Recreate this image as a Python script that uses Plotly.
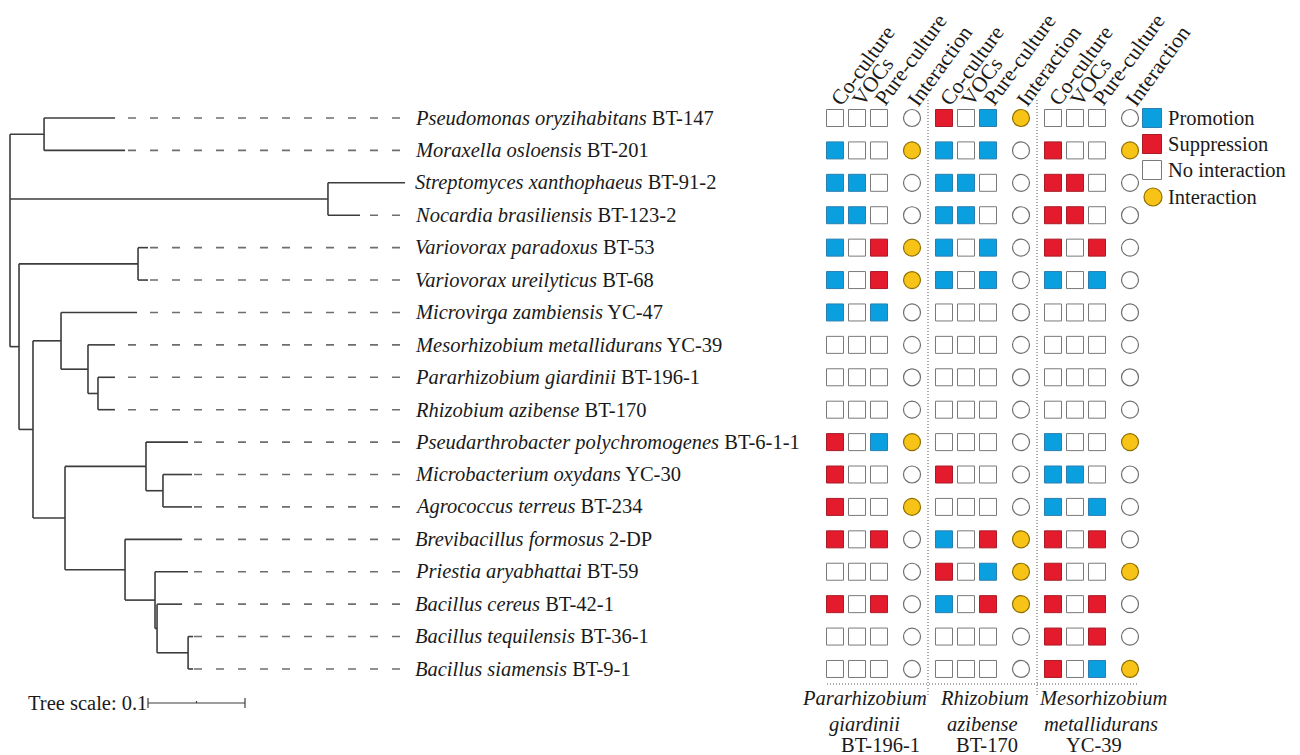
import plotly.graph_objects as go

# ---------------- taxa (top to bottom) ----------------
SPECIES = [
    "Pseudomonas oryzihabitans", "Moraxella osloensis", "Streptomyces xanthophaeus",
    "Nocardia brasiliensis", "Variovorax paradoxus", "Variovorax ureilyticus",
    "Microvirga zambiensis", "Mesorhizobium metallidurans", "Pararhizobium giardinii",
    "Rhizobium azibense", "Pseudarthrobacter polychromogenes", "Microbacterium oxydans",
    "Agrococcus terreus", "Brevibacillus formosus", "Priestia aryabhattai",
    "Bacillus cereus", "Bacillus tequilensis", "Bacillus siamensis",
]
STRAINS = [
    "BT-147", "BT-201", "BT-91-2", "BT-123-2", "BT-53", "BT-68", "YC-47", "YC-39",
    "BT-196-1", "BT-170", "BT-6-1-1", "YC-30", "BT-234", "2-DP", "BT-59",
    "BT-42-1", "BT-36-1", "BT-9-1",
]

# ---------------- phylogeny ----------------
# Each node is (child, branch_length); child is a leaf row index or a list of nodes.
TREE = [
    ([(0, 0.0732), (1, 0.0835)], 0.0351),
    ([(2, 0.0794), (3, 0.0330)], 0.3278),
    ([
        ([(4, 0.0103), (5, 0.0103)], 0.1227),
        ([
            ([(6, 0.0784),
              ([(7, 0.0278),
                ([(8, 0.0175), (9, 0.0175)], 0.0103)], 0.0278)], 0.0289),
            ([
                ([(10, 0.0433),
                  ([(11, 0.0299), (12, 0.0299)], 0.0175)], 0.0835),
                ([(13, 0.0588),
                  ([(14, 0.0340),
                    ([(15, 0.0258),
                      ([(16, 0.0052), (17, 0.0052)], 0.0320)], 0.0021)], 0.0309)], 0.0619),
            ], 0.0330),
        ], 0.0144),
    ], 0.0093),
]
TREE_SCALE = 0.1

# ---------------- interaction effects ----------------
# Columns: Co-culture, VOCs, Pure-culture  (1 promotion, -1 suppression, 0 none)
EFFECTS_GIARDINII = [
    (0, 0, 0), (1, 0, 0), (1, 1, 0), (1, 1, 0), (1, 0, -1), (1, 0, -1), (1, 0, 1),
    (0, 0, 0), (0, 0, 0), (0, 0, 0), (-1, 0, 1), (-1, 0, 0), (-1, 0, 0), (-1, 0, -1),
    (0, 0, 0), (-1, 0, -1), (0, 0, 0), (0, 0, 0),
]
EFFECTS_AZIBENSE = [
    (-1, 0, 1), (1, 0, 1), (1, 1, 0), (1, 1, 0), (1, 0, 1), (1, 0, 1), (0, 0, 0),
    (0, 0, 0), (0, 0, 0), (0, 0, 0), (0, 0, 0), (-1, 0, 0), (0, 0, 0), (1, 0, -1),
    (-1, 0, 1), (1, 0, -1), (0, 0, 0), (0, 0, 0),
]
EFFECTS_METALLIDURANS = [
    (0, 0, 0), (-1, 0, 0), (-1, -1, 0), (-1, -1, 0), (-1, 0, -1), (1, 0, 1), (0, 0, 0),
    (0, 0, 0), (0, 0, 0), (0, 0, 0), (1, 0, 0), (1, 1, 0), (1, 0, 1), (-1, 0, -1),
    (-1, 0, 0), (-1, 0, -1), (-1, 0, -1), (-1, 0, 1),
]
# Interaction (1 yes, 0 no)
INTER_GIARDINII = [0, 1, 0, 0, 1, 1, 0, 0, 0, 0, 1, 0, 1, 0, 0, 0, 0, 0]
INTER_AZIBENSE = [1, 0, 0, 0, 0, 0, 0, 0, 0, 0, 0, 0, 0, 1, 1, 1, 0, 0]
INTER_METALLIDURANS = [0, 1, 0, 0, 0, 0, 0, 0, 0, 0, 1, 0, 0, 0, 1, 0, 0, 1]

COLUMN_LABELS = ["Co-culture", "VOCs", "Pure-culture", "Interaction"]
PARTNERS = [
    ("Pararhizobium", "giardinii", "BT-196-1"),
    ("Rhizobium", "azibense", "BT-170"),
    ("Mesorhizobium", "metallidurans", "YC-39"),
]
LEGEND_LABELS = ["Promotion", "Suppression", "No interaction", "Interaction"]

# ---------------- styling / layout ----------------
W, H = 1300, 755
ROW_PX0, ROW_STEP = 118.0, 32.41
PX_PER_UNIT = 970.0
TREE_X0 = 10.0
LEADER_END_PX = 400.0
LABEL_X = 413.0
GROUP_X0 = [835, 944, 1053]
SQ_OFFSETS = [0, 22, 44]
CIRCLE_OFFSET = 77

BLUE, RED, YELLOW = "#0AA0E0", "#E31B2C", "#F8C317"
TREE_COLOR, LEADER_COLOR = "#3c3c3c", "#6e6e6e"
TEXT_COLOR = "#1a1a1a"
FONT = "Liberation Serif"


def row(px):
    return (px - ROW_PX0) / ROW_STEP


def tx(px):
    return (px - TREE_X0) / PX_PER_UNIT


fig = go.Figure()

# ---- tree layout ----
hx, hy, vx, vy = [], [], [], []
leaf_x = {}


def place(nodes, x_parent):
    ys = []
    for child, bl in nodes:
        x = x_parent + bl
        if isinstance(child, int):
            y = child
            leaf_x[child] = x
        else:
            y = place(child, x)
        hx.extend([x_parent, x, None])
        hy.extend([y, y, None])
        ys.append(y)
    vx.extend([x_parent, x_parent, None])
    vy.extend([min(ys), max(ys), None])
    return (min(ys) + max(ys)) / 2


place(TREE, 0.0)

fig.add_trace(go.Scatter(x=hx + vx, y=hy + vy, mode="lines", xaxis="x", yaxis="y",
                         line=dict(color=TREE_COLOR, width=1.6), hoverinfo="skip"))

# dashed leaders from label column back to each tip (one trace per leader so dashes align right)
for i in range(len(SPECIES)):
    if leaf_x[i] < tx(LEADER_END_PX):
        fig.add_trace(go.Scatter(x=[tx(LEADER_END_PX), leaf_x[i]], y=[i, i], mode="lines",
                                 xaxis="x", yaxis="y",
                                 line=dict(color=LEADER_COLOR, width=1.6, dash="8px,14px"),
                                 hoverinfo="skip"))

# tree scale bar
sb0 = tx(148)
fig.add_trace(go.Scatter(
    x=[sb0, sb0 + TREE_SCALE, None, sb0, sb0, None, sb0 + TREE_SCALE, sb0 + TREE_SCALE, None,
       sb0 + TREE_SCALE / 2, sb0 + TREE_SCALE / 2],
    y=[row(703), row(703), None, row(698), row(708), None, row(698), row(708), None,
       row(701), row(703)],
    mode="lines", xaxis="x", yaxis="y", line=dict(color=TREE_COLOR, width=1.2), hoverinfo="skip"))

annotations = []
annotations.append(dict(x=149, y=row(703), xref="x2", yref="y", text="Tree scale: 0.1",
                        xanchor="right", yanchor="middle", showarrow=False,
                        font=dict(family=FONT, size=20.5, color=TEXT_COLOR)))

# species labels
for i, (sp, st) in enumerate(zip(SPECIES, STRAINS)):
    annotations.append(dict(x=LABEL_X, y=i, xref="x2", yref="y", text=f"<i>{sp}</i> {st}",
                            xanchor="left", yanchor="middle", showarrow=False,
                            font=dict(family=FONT, size=20.5, color=TEXT_COLOR)))

# ---- effect squares and interaction circles ----
effects = [EFFECTS_GIARDINII, EFFECTS_AZIBENSE, EFFECTS_METALLIDURANS]
inters = [INTER_GIARDINII, INTER_AZIBENSE, INTER_METALLIDURANS]
fill_of = {1: BLUE, -1: RED, 0: "white"}
edge_of = {1: "#2a7fb0", -1: "#a81c28", 0: "#7a7a7a"}

sq_x, sq_y, sq_fill, sq_edge = [], [], [], []
ci_x, ci_y, ci_fill, ci_edge = [], [], [], []
for g in range(3):
    for i in range(len(SPECIES)):
        for c in range(3):
            v = effects[g][i][c]
            sq_x.append(GROUP_X0[g] + SQ_OFFSETS[c])
            sq_y.append(i)
            sq_fill.append(fill_of[v])
            sq_edge.append(edge_of[v])
        k = inters[g][i]
        ci_x.append(GROUP_X0[g] + CIRCLE_OFFSET)
        ci_y.append(i)
        ci_fill.append(YELLOW if k else "white")
        ci_edge.append("#8f6f00" if k else "#6e6e6e")

fig.add_trace(go.Scatter(x=sq_x, y=sq_y, mode="markers", xaxis="x2", yaxis="y",
                         marker=dict(symbol="square", size=17, color=sq_fill,
                                     line=dict(color=sq_edge, width=1)), hoverinfo="skip"))
fig.add_trace(go.Scatter(x=ci_x, y=ci_y, mode="markers", xaxis="x2", yaxis="y",
                         marker=dict(symbol="circle", size=17, color=ci_fill,
                                     line=dict(color=ci_edge, width=1.2)), hoverinfo="skip"))

# dotted separators
sep = dict(color="#555555", width=1, dash="1px,2px")
for g in (1, 2):
    xs = (GROUP_X0[g - 1] + CIRCLE_OFFSET + GROUP_X0[g]) / 2
    fig.add_trace(go.Scatter(x=[xs, xs], y=[row(100), row(697)], mode="lines",
                             xaxis="x2", yaxis="y", line=sep, hoverinfo="skip"))
fig.add_trace(go.Scatter(x=[827, 1137], y=[row(684), row(684)], mode="lines",
                         xaxis="x2", yaxis="y", line=sep, hoverinfo="skip"))

# column headers
for g in range(3):
    xs = [GROUP_X0[g] + o for o in SQ_OFFSETS] + [GROUP_X0[g] + CIRCLE_OFFSET]
    for x, lab in zip(xs, COLUMN_LABELS):
        annotations.append(dict(x=x - 12, y=row(113), xref="x2", yref="y", text=lab,
                                textangle=-54, xanchor="left", yanchor="bottom",
                                showarrow=False,
                                font=dict(family=FONT, size=21.5, color=TEXT_COLOR)))

# partner names under each block
centers = [(864, 864, 880), (984, 982, 987), (1103, 1101, 1094)]
for (genus, epithet, strain), (c1, c2, c3) in zip(PARTNERS, centers):
    for txt, cx, py in ((f"<i>{genus}</i>", c1, 698), (f"<i>{epithet}</i>", c2, 724),
                        (strain, c3, 745)):
        annotations.append(dict(x=cx, y=row(py), xref="x2", yref="y", text=txt,
                                xanchor="center", yanchor="middle", showarrow=False,
                                font=dict(family=FONT, size=20.5, color=TEXT_COLOR)))

# ---- key ----
key_rows = [row(118), row(144), row(170), row(197)]
fig.add_trace(go.Scatter(x=[1152, 1152, 1152], y=key_rows[:3], mode="markers",
                         xaxis="x2", yaxis="y",
                         marker=dict(symbol="square", size=19, color=[BLUE, RED, "white"],
                                     line=dict(color=["#2a7fb0", "#a81c28", "#7a7a7a"], width=1)),
                         hoverinfo="skip"))
fig.add_trace(go.Scatter(x=[1153], y=[key_rows[3]], mode="markers", xaxis="x2", yaxis="y",
                         marker=dict(symbol="circle", size=18, color=YELLOW,
                                     line=dict(color="#8f6f00", width=1.2)), hoverinfo="skip"))
for lab, y in zip(LEGEND_LABELS, key_rows):
    annotations.append(dict(x=1166, y=y, xref="x2", yref="y", text=lab, xanchor="left",
                            yanchor="middle", showarrow=False,
                            font=dict(family=FONT, size=20.5, color=TEXT_COLOR)))

fig.update_layout(
    width=W, height=H, margin=dict(l=0, r=0, t=0, b=0),
    paper_bgcolor="white", plot_bgcolor="white", showlegend=False,
    xaxis=dict(range=[tx(0), tx(W)], visible=False, fixedrange=True),
    xaxis2=dict(range=[0, W], overlaying="x", visible=False, fixedrange=True),
    yaxis=dict(range=[row(H), row(0)], visible=False, fixedrange=True),
    annotations=annotations,
)

fig.write_html("out.html")
